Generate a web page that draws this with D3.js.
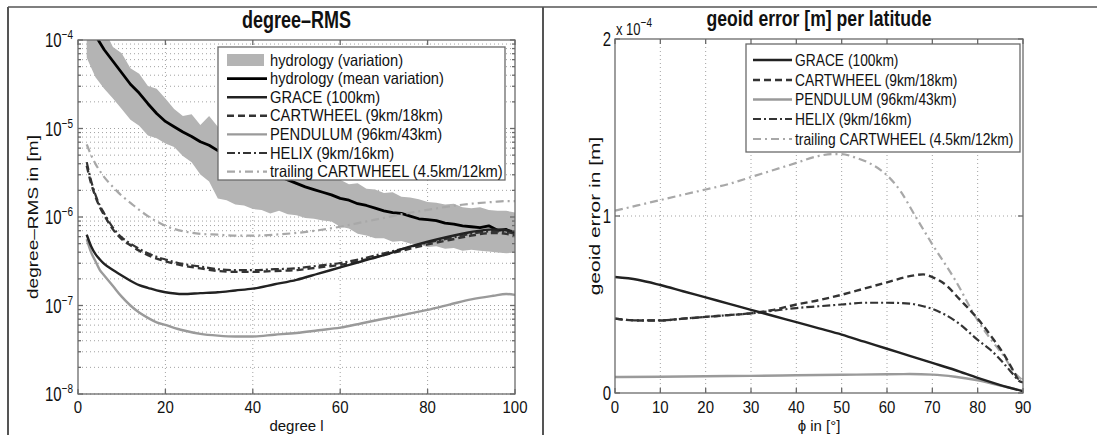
<!DOCTYPE html>
<html>
<head>
<meta charset="utf-8">
<script src="https://cdn.jsdelivr.net/npm/d3@7"></script>
<style>
  body { margin: 0; background: #fff; }
  svg { display: block; font-family: "Liberation Sans", Arial, sans-serif; }
  text { fill: #111; }
</style>
</head>
<body>
<svg id="chart" width="1097" height="435"></svg>
<script>
// ---- left panel: degree-RMS (values stored as log10 exponents, in [m]) ----
const hydroDeg = [2,4,6,8,10,12,14,16,18,20,22,24,26,28,30,32,34,36,38,40,42,44,46,48,50,
                  52,54,56,58,60,62,64,66,68,70,72,74,76,78,80,82,84,86,88,90,92,94,96,98,100];
const hydroMeanExp = [-3.80,-3.95,-4.11,-4.24,-4.37,-4.50,-4.60,-4.72,-4.83,-4.92,-4.98,-5.04,-5.09,-5.15,-5.19,-5.25,-5.27,-5.33,-5.37,-5.42,-5.45,-5.50,-5.54,-5.58,-5.62,
                      -5.66,-5.69,-5.72,-5.75,-5.79,-5.81,-5.85,-5.87,-5.90,-5.93,-5.95,-5.96,-5.99,-6.02,-6.03,-6.04,-6.07,-6.08,-6.10,-6.11,-6.12,-6.10,-6.15,-6.14,-6.19];
const hydroUpperExp = [-3.50,-3.72,-3.88,-4.08,-4.15,-4.32,-4.38,-4.52,-4.55,-4.66,-4.78,-4.86,-4.84,-4.96,-4.86,-4.98,-5.06,-5.08,-5.15,-5.18,-5.25,-5.27,-5.33,-5.36,-5.42,
                       -5.44,-5.50,-5.49,-5.56,-5.58,-5.63,-5.62,-5.68,-5.69,-5.73,-5.72,-5.77,-5.78,-5.80,-5.83,-5.84,-5.86,-5.85,-5.89,-5.90,-5.89,-5.92,-5.93,-5.93,-5.95];
const hydroLowerExp = [-4.20,-4.42,-4.55,-4.66,-4.78,-4.90,-4.97,-5.08,-5.11,-5.17,-5.21,-5.31,-5.38,-5.52,-5.60,-5.79,-5.81,-5.86,-5.87,-5.91,-5.92,-5.96,-5.93,-5.97,-5.98,
                       -6.01,-6.02,-6.04,-6.05,-6.11,-6.13,-6.19,-6.21,-6.24,-6.24,-6.28,-6.27,-6.30,-6.31,-6.34,-6.33,-6.36,-6.35,-6.38,-6.37,-6.38,-6.39,-6.40,-6.41,-6.40];

const satDeg = [2,3,4,5,6,8,10,12,14,16,18,20,24,28,32,36,40,45,50,55,60,65,70,75,80,85,90,95,98,100];
const graceExp     = [-6.20,-6.33,-6.42,-6.48,-6.53,-6.60,-6.66,-6.72,-6.77,-6.80,-6.83,-6.85,-6.87,-6.86,-6.85,-6.83,-6.81,-6.76,-6.71,-6.64,-6.57,-6.50,-6.43,-6.35,-6.28,-6.22,-6.17,-6.14,-6.15,-6.17];
const cartwheelExp = [-5.42,-5.62,-5.77,-5.89,-5.98,-6.14,-6.25,-6.32,-6.38,-6.43,-6.47,-6.50,-6.55,-6.58,-6.61,-6.62,-6.62,-6.61,-6.60,-6.57,-6.54,-6.49,-6.43,-6.37,-6.31,-6.26,-6.21,-6.18,-6.19,-6.21];
const pendulumExp  = [-6.25,-6.40,-6.50,-6.60,-6.66,-6.78,-6.90,-7.00,-7.08,-7.14,-7.19,-7.22,-7.28,-7.32,-7.34,-7.35,-7.35,-7.33,-7.31,-7.28,-7.25,-7.20,-7.15,-7.10,-7.05,-6.99,-6.93,-6.89,-6.87,-6.88];
const helixExp     = [-5.38,-5.59,-5.75,-5.87,-5.96,-6.12,-6.23,-6.30,-6.36,-6.41,-6.45,-6.48,-6.53,-6.56,-6.59,-6.60,-6.60,-6.59,-6.58,-6.55,-6.52,-6.47,-6.41,-6.35,-6.29,-6.24,-6.19,-6.16,-6.17,-6.19];
const trailingExp  = [-5.18,-5.30,-5.40,-5.48,-5.55,-5.66,-5.76,-5.84,-5.92,-5.99,-6.05,-6.10,-6.16,-6.19,-6.20,-6.21,-6.21,-6.20,-6.18,-6.15,-6.11,-6.06,-6.01,-5.96,-5.92,-5.88,-5.85,-5.83,-5.82,-5.82];

// ---- right panel: geoid error per latitude (units of 1e-4 m) ----
const latGrace = [0,5,10,15,20,25,30,35,40,45,50,55,60,65,70,75,80,85,90];
const geoidGrace = [0.655,0.64,0.61,0.575,0.54,0.505,0.47,0.435,0.40,0.365,0.33,0.29,0.25,0.21,0.17,0.13,0.085,0.045,0.01];
const latPendulum = [0,10,20,30,40,50,60,65,70,75,80,85,90];
const geoidPendulum = [0.09,0.092,0.095,0.097,0.10,0.103,0.106,0.107,0.104,0.092,0.072,0.042,0.012];
const latWheel = [0,5,10,15,20,25,30,35,40,45,50,55,60,65,68,70,73,76,80,83,86,88,89,90];
const geoidCartwheel = [0.42,0.41,0.41,0.42,0.43,0.44,0.45,0.47,0.50,0.525,0.555,0.59,0.625,0.66,0.67,0.655,0.61,0.53,0.42,0.32,0.21,0.12,0.08,0.08];
const geoidHelix     = [0.42,0.41,0.41,0.42,0.43,0.44,0.45,0.465,0.48,0.49,0.50,0.51,0.51,0.505,0.49,0.475,0.44,0.39,0.30,0.24,0.16,0.10,0.07,0.06];
const latTrailing = [0,5,10,15,20,25,30,35,40,45,48,50,53,56,60,63,66,70,75,80,83,86,88,90];
const geoidTrailing = [1.03,1.06,1.09,1.12,1.15,1.18,1.22,1.26,1.30,1.34,1.35,1.35,1.33,1.30,1.23,1.14,1.01,0.84,0.64,0.41,0.30,0.20,0.12,0.07];

const leftTicksX = [0,20,40,60,80,100];
const leftDecades = [-8,-7,-6,-5,-4];
const rightTicksX = [0,10,20,30,40,50,60,70,80,90];
const rightTicksY = [0,1,2];

const STYLE = {
    mean:      { color: "#000",    width: 2.8, dash: null },
    grace:     { color: "#222",    width: 2.4, dash: null },
    cartwheel: { color: "#333",    width: 2.4, dash: "7,4" },
    pendulum:  { color: "#9a9a9a", width: 2.4, dash: null },
    helix:     { color: "#333",    width: 2.2, dash: "8,3,2,3" },
    trailing:  { color: "#a8a8a8", width: 2.2, dash: "8,4,2,4" }
};
const BAND = "#b4b4b4";
const GRID = "#8a8a8a";
const AXIS = "#6a6a6a";
const STRETCH = 1.3;   // the scan is stretched vertically, text too

const svg = d3.select("#chart");

// text that is stretched vertically like the original scan
function txt(x, y, str, size, opts) {
    opts = opts || {};
    const t = svg.append("text")
        .attr("transform", `translate(${x},${y}) scale(1,${opts.sy || STRETCH})` + (opts.rot ? " rotate(-90)" : ""))
        .attr("font-size", size)
        .attr("text-anchor", opts.anchor || "start");
    if (opts.bold) t.attr("font-weight", "bold");
    if (str !== null) t.text(str);
    return t;
}

function sup(sel, base, exp) {
    sel.append("tspan").text(base);
    sel.append("tspan").attr("dy", -6).attr("font-size", 10).text(exp);
}

// outer frame
svg.append("line").attr("x1", 8).attr("x2", 1097).attr("y1", 7).attr("y2", 7)
    .attr("stroke", "#555").attr("stroke-width", 1.6);
svg.append("line").attr("x1", 8).attr("x2", 8).attr("y1", 7).attr("y2", 435)
    .attr("stroke", "#555").attr("stroke-width", 2);
svg.append("line").attr("x1", 543).attr("x2", 543).attr("y1", 7).attr("y2", 435)
    .attr("stroke", "#555").attr("stroke-width", 2);

function addClip(id, x0, x1, y0, y1) {
    svg.append("clipPath").attr("id", id)
        .append("rect").attr("x", x0).attr("y", y0).attr("width", x1 - x0).attr("height", y1 - y0);
}

function drawLine(g, xs, ys, x, y, st, curve) {
    const pts = xs.map((d, i) => [d, ys[i]]);
    const gen = d3.line().x(d => x(d[0])).y(d => y(d[1])).curve(curve || d3.curveMonotoneX);
    g.append("path").attr("d", gen(pts))
        .attr("fill", "none")
        .attr("stroke", st.color)
        .attr("stroke-width", st.width)
        .attr("stroke-dasharray", st.dash)
        .attr("stroke-linejoin", "round");
}

function legend(x0, y0, w, h, rowY, items, sampleX0, sampleX1, textX, size, sy) {
    const g = svg.append("g");
    g.append("rect").attr("x", x0).attr("y", y0).attr("width", w).attr("height", h)
        .attr("fill", "#fff").attr("stroke", AXIS).attr("stroke-width", 1.3);
    items.forEach((it, i) => {
        const cy = rowY[i];
        if (it.band) {
            g.append("rect").attr("x", sampleX0).attr("y", cy - 6).attr("width", sampleX1 - sampleX0 - 3)
                .attr("height", 12).attr("fill", BAND);
        } else {
            const st = STYLE[it.key];
            g.append("line").attr("x1", sampleX0).attr("x2", sampleX1).attr("y1", cy).attr("y2", cy)
                .attr("stroke", st.color).attr("stroke-width", st.width).attr("stroke-dasharray", st.dash);
        }
        txt(textX, cy + 5.5, it.label, size, { sy: sy });
    });
}

// ================= left panel =================
(function () {
    const x = d3.scaleLinear().domain([0, 100]).range([78, 515]);
    const y = d3.scaleLog().domain([1e-8, 1e-4]).range([394, 40]);
    const [x0, x1] = x.range();
    const [yb, yt] = y.range();
    addClip("clipL", x0, x1, yt, yb);

    const grid = svg.append("g").attr("stroke", GRID).attr("stroke-width", 0.8).attr("stroke-dasharray", "1,3");
    leftTicksX.slice(1, -1).forEach(v => {
        grid.append("line").attr("x1", x(v)).attr("x2", x(v)).attr("y1", yt).attr("y2", yb);
    });
    const minor = [];
    leftDecades.slice(0, -1).forEach(e => { for (let k = 1; k <= 9; k++) minor.push(k * Math.pow(10, e)); });
    minor.forEach(v => {
        grid.append("line").attr("x1", x0).attr("x2", x1).attr("y1", y(v)).attr("y2", y(v));
    });

    const g = svg.append("g").attr("clip-path", "url(#clipL)");
    const pow = a => a.map(e => Math.pow(10, e));

    const area = d3.area().x((d, i) => x(hydroDeg[i]))
        .y0((d, i) => y(Math.pow(10, hydroLowerExp[i])))
        .y1(d => y(Math.pow(10, d)));
    g.append("path").attr("d", area(hydroUpperExp)).attr("fill", BAND);

    drawLine(g, hydroDeg, pow(hydroMeanExp), x, y, STYLE.mean, d3.curveLinear);
    drawLine(g, satDeg, pow(trailingExp), x, y, STYLE.trailing);
    drawLine(g, satDeg, pow(helixExp), x, y, STYLE.helix);
    drawLine(g, satDeg, pow(cartwheelExp), x, y, STYLE.cartwheel);
    drawLine(g, satDeg, pow(pendulumExp), x, y, STYLE.pendulum);
    drawLine(g, satDeg, pow(graceExp), x, y, STYLE.grace);

    // frame and ticks (on all sides)
    const ax = svg.append("g").attr("stroke", AXIS).attr("stroke-width", 1.3);
    ax.append("rect").attr("x", x0).attr("y", yt).attr("width", x1 - x0).attr("height", yb - yt).attr("fill", "none");
    leftTicksX.forEach(v => {
        ax.append("line").attr("x1", x(v)).attr("x2", x(v)).attr("y1", yb).attr("y2", yb - 5);
        ax.append("line").attr("x1", x(v)).attr("x2", x(v)).attr("y1", yt).attr("y2", yt + 5);
    });
    minor.concat([1e-4]).forEach(v => {
        const len = (Math.abs(Math.log10(v) % 1) < 1e-9) ? 5 : 3;
        ax.append("line").attr("x1", x0).attr("x2", x0 + len).attr("y1", y(v)).attr("y2", y(v));
        ax.append("line").attr("x1", x1).attr("x2", x1 - len).attr("y1", y(v)).attr("y2", y(v));
    });

    leftTicksX.forEach(v => txt(x(v), 413, String(v), 15, { anchor: "middle", sy: 1.15 }));
    leftDecades.forEach(e => {
        const t = txt(73, y(Math.pow(10, e)) + 7, null, 15, { anchor: "end" });
        sup(t, "10", "\u2212" + Math.abs(e));
    });

    txt(x(50), 28, "degree\u2013RMS", 18, { anchor: "middle", bold: true });
    txt(x(50), 431, "degree l", 15, { anchor: "middle", sy: 1.0 });
    txt(38, (yt + yb) / 2, "degree\u2013RMS in [m]", 15, { anchor: "middle", rot: true, sy: 1.27 });

    legend(218, 47, 287, 133, [60, 78.6, 97.2, 115.8, 134.4, 153, 171.6], [
        { band: true, label: "hydrology (variation)" },
        { key: "mean", label: "hydrology (mean variation)" },
        { key: "grace", label: "GRACE (100km)" },
        { key: "cartwheel", label: "CARTWHEEL (9km/18km)" },
        { key: "pendulum", label: "PENDULUM (96km/43km)" },
        { key: "helix", label: "HELIX (9km/16km)" },
        { key: "trailing", label: "trailing CARTWHEEL (4.5km/12km)" }
    ], 227, 267, 270, 14.7, 1.15);
})();

// ================= right panel =================
(function () {
    const x = d3.scaleLinear().domain([0, 90]).range([615, 1023]);
    const y = d3.scaleLinear().domain([0, 2]).range([393, 39]);
    const [x0, x1] = x.range();
    const [yb, yt] = y.range();
    addClip("clipR", x0, x1, yt, yb);

    const grid = svg.append("g").attr("stroke", GRID).attr("stroke-width", 0.8).attr("stroke-dasharray", "1,3");
    rightTicksX.slice(1, -1).forEach(v => {
        grid.append("line").attr("x1", x(v)).attr("x2", x(v)).attr("y1", yt).attr("y2", yb);
    });
    grid.append("line").attr("x1", x0).attr("x2", x1).attr("y1", y(1)).attr("y2", y(1));

    const g = svg.append("g").attr("clip-path", "url(#clipR)");
    drawLine(g, latTrailing, geoidTrailing, x, y, STYLE.trailing);
    drawLine(g, latWheel, geoidHelix, x, y, STYLE.helix);
    drawLine(g, latWheel, geoidCartwheel, x, y, STYLE.cartwheel);
    drawLine(g, latPendulum, geoidPendulum, x, y, STYLE.pendulum);
    drawLine(g, latGrace, geoidGrace, x, y, STYLE.grace);

    const ax = svg.append("g").attr("stroke", AXIS).attr("stroke-width", 1.3);
    ax.append("rect").attr("x", x0).attr("y", yt).attr("width", x1 - x0).attr("height", yb - yt).attr("fill", "none");
    rightTicksX.forEach(v => {
        ax.append("line").attr("x1", x(v)).attr("x2", x(v)).attr("y1", yb).attr("y2", yb - 5);
        ax.append("line").attr("x1", x(v)).attr("x2", x(v)).attr("y1", yt).attr("y2", yt + 5);
    });
    rightTicksY.forEach(v => {
        ax.append("line").attr("x1", x0).attr("x2", x0 + 5).attr("y1", y(v)).attr("y2", y(v));
        ax.append("line").attr("x1", x1).attr("x2", x1 - 5).attr("y1", y(v)).attr("y2", y(v));
    });

    rightTicksX.forEach(v => txt(x(v), 413, String(v), 15, { anchor: "middle", sy: 1.15 }));
    rightTicksY.forEach(v => txt(611, y(v) + 7, String(v), 15, { anchor: "end" }));
    const ex = txt(616, 35, null, 13);
    sup(ex, "x 10", "\u22124");

    txt(819, 26, "geoid error [m] per latitude", 17.6, { anchor: "middle", bold: true });
    txt(x(45), 431, "\u03D5 in [\u00B0]", 15, { anchor: "middle", sy: 1.0 });
    txt(600, (yt + yb) / 2, "geoid error in [m]", 15, { anchor: "middle", rot: true, sy: 1.4 });

    legend(746, 44, 274, 108, [60, 80, 99.5, 119, 139], [
        { key: "grace", label: "GRACE (100km)" },
        { key: "cartwheel", label: "CARTWHEEL (9km/18km)" },
        { key: "pendulum", label: "PENDULUM (96km/43km)" },
        { key: "helix", label: "HELIX (9km/16km)" },
        { key: "trailing", label: "trailing CARTWHEEL (4.5km/12km)" }
    ], 753, 792, 795, 13.8, 1.2);
})();
</script>
</body>
</html>
